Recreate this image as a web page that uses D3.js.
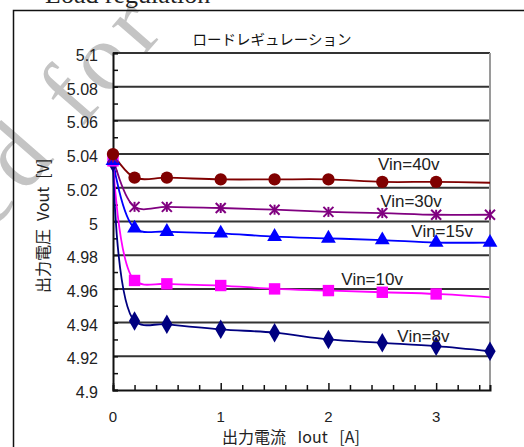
<!DOCTYPE html>
<html><head><meta charset="utf-8">
<script src="https://cdn.jsdelivr.net/npm/d3@7"></script>
<style>
html,body{margin:0;padding:0;background:#fff;}
svg{display:block;}
</style></head>
<body>
<svg id="chart" width="524" height="447"></svg>
<script>
// ---- data ----
const iout = [0, 0.2, 0.5, 1.0, 1.5, 2.0, 2.5, 3.0, 3.5];
const vin40 = [5.040, 5.026, 5.026, 5.025, 5.025, 5.025, 5.0235, 5.0235, 5.023];
const vin30 = [5.038, 5.0087, 5.0087, 5.008, 5.007, 5.0057, 5.005, 5.004, 5.004];
const vin15 = [5.036, 4.996, 4.994, 4.993, 4.991, 4.990, 4.989, 4.9875, 4.9875];
const vin10 = [5.036, 4.965, 4.963, 4.962, 4.960, 4.959, 4.958, 4.957, 4.955];
const vin8  = [5.035, 4.941, 4.939, 4.936, 4.934, 4.930, 4.928, 4.926, 4.923];
const seriesNames = ["Vin=40v", "Vin=30v", "Vin=15v", "Vin=10v", "Vin=8v"];
const yTicks = [4.9, 4.92, 4.94, 4.96, 4.98, 5.0, 5.02, 5.04, 5.06, 5.08, 5.1];
const yTickLabels = ["4.9", "4.92", "4.94", "4.96", "4.98", "5", "5.02", "5.04", "5.06", "5.08", "5.1"];
const xTicks = [0, 1, 2, 3];
const xTickLabels = ["0", "1", "2", "3"];
const chartTitle = "ロードレギュレーション";
const pageTitle = "Load regulation";
const xTitle = "出力電流\u2002 Iout\u2002 [A]";
const yTitle = "出力電圧\u2002Vout\u2002[V]";
const watermark = "ed for";

// ---- styles ----
const seriesValues = [vin40, vin30, vin15, vin10, vin8];
const colors = ["#800000", "#800080", "#0000ff", "#ff00ff", "#000080"];
const markers = ["circle", "star", "triangle", "square", "diamond"];
const lastMarker = [false, true, true, false, true];
// label anchor in data space (left x, baseline y)
const labelPos = [[2.46, 5.0305], [2.48, 5.0088], [2.77, 4.9908], [2.12, 4.9625], [2.64, 4.9285]];

const svg = d3.select("#chart");
const x = d3.scaleLinear().domain([0, 3.5]).range([113, 490]);
const y = d3.scaleLinear().domain([4.9, 5.1]).range([390, 53]);

// watermark (under everything)
svg.append("text")
  .attr("transform", "translate(-9,232) rotate(-49)")
  .attr("font-family", "Liberation Serif, serif")
  .attr("font-size", 95)
  .attr("letter-spacing", 8)
  .attr("fill", "#c4c4c4")
  .text(watermark);

// page title (cut at top)
svg.append("text")
  .attr("x", 45).attr("y", 3)
  .attr("font-family", "Liberation Serif, serif")
  .attr("font-size", 26)
  .attr("fill", "#222")
  .text(pageTitle);

// outer frame
svg.append("rect")
  .attr("x", 13.5).attr("y", 10.5)
  .attr("width", 600).attr("height", 600)
  .attr("fill", "none").attr("stroke", "#111").attr("stroke-width", 1.5);

// chart title
svg.append("text")
  .attr("x", 272).attr("y", 45)
  .attr("text-anchor", "middle")
  .attr("font-family", "Noto Sans CJK JP, sans-serif")
  .attr("font-size", 14.5)
  .attr("fill", "#111")
  .text(chartTitle);

// plot background
svg.append("rect")
  .attr("x", x(0)).attr("y", y(5.1))
  .attr("width", x(3.5) - x(0)).attr("height", y(4.9) - y(5.1))
  .attr("fill", "#fff");

// gridlines
svg.append("g").selectAll("line").data(yTicks.filter(d => d > 4.9)).join("line")
  .attr("x1", x(0)).attr("x2", x(3.5))
  .attr("y1", d => y(d)).attr("y2", d => y(d))
  .attr("stroke", "#333").attr("stroke-width", 2);

// right border
svg.append("line")
  .attr("x1", x(3.5)).attr("x2", x(3.5)).attr("y1", y(5.1)).attr("y2", y(4.9))
  .attr("stroke", "#9a9a9a").attr("stroke-width", 2);

// y axis
const yAxis = d3.axisRight(y)
  .tickValues(d3.range(0, 21).map(i => 4.9 + i * 0.01))
  .tickSize(5).tickFormat("");
const gy = svg.append("g").attr("transform", `translate(${x(0)},0)`).call(yAxis);
gy.select(".domain").attr("stroke", "#111").attr("stroke-width", 2);
gy.selectAll(".tick line").attr("stroke", "#111").attr("stroke-width", 1.5);

svg.append("g").selectAll("text").data(yTicks).join("text")
  .attr("x", 98).attr("y", d => y(d) + 8)
  .attr("text-anchor", "end")
  .attr("font-family", "Liberation Sans, Arial, sans-serif")
  .attr("font-size", 16)
  .attr("fill", "#222")
  .text((d, i) => yTickLabels[i]);

// x axis
const xMinor = d3.range(0, 18).map(i => +(i * 0.2).toFixed(1)).filter(v => v <= 3.5);
const xAxis = d3.axisTop(x).tickValues(xMinor).tickSize(5).tickFormat("");
const gx = svg.append("g").attr("transform", `translate(0,${y(4.9)})`).call(xAxis);
gx.select(".domain").attr("stroke", "#111").attr("stroke-width", 2);
gx.selectAll(".tick line").attr("stroke", "#111").attr("stroke-width", 1.5);
gx.selectAll(".tick line").filter(d => Number.isInteger(d)).attr("y2", -7);

svg.append("g").selectAll("text").data(xTicks).join("text")
  .attr("x", d => x(d)).attr("y", 422)
  .attr("text-anchor", "middle")
  .attr("font-family", "Liberation Sans, Arial, sans-serif")
  .attr("font-size", 15)
  .attr("fill", "#222")
  .text((d, i) => xTickLabels[i]);

// axis titles
svg.append("text")
  .attr("x", 222).attr("y", 443)
  .attr("font-family", "Noto Sans CJK JP, sans-serif")
  .attr("font-size", 16)
  .attr("fill", "#222")
  .text(xTitle);

svg.append("text")
  .attr("transform", "translate(49,293) rotate(-90)")
  .attr("font-family", "Noto Sans CJK JP, sans-serif")
  .attr("font-size", 16)
  .attr("fill", "#222")
  .text(yTitle);

// series lines
const line = d3.line()
  .x((d, i) => x(iout[i]))
  .y(d => y(d))
  .curve(d3.curveCatmullRom.alpha(0.5));

const gSeries = svg.append("g");
seriesValues.forEach((vals, s) => {
  gSeries.append("path")
    .datum(vals)
    .attr("d", line)
    .attr("fill", "none")
    .attr("stroke", colors[s])
    .attr("stroke-width", 1.8);
});

// markers
const symbolFor = {
  circle: d3.symbolCircle, triangle: d3.symbolTriangle,
  square: d3.symbolSquare, diamond: d3.symbolDiamond
};
const symSize = { circle: 120, triangle: 95, square: 130, diamond: 110 };
[4, 3, 2, 1, 0].forEach(s => {
  const vals = seriesValues[s];
  const pts = vals.map((v, i) => ({ x: iout[i], v, i }))
    .filter(p => lastMarker[s] || p.i < vals.length - 1);
  const g = gSeries.append("g");
  if (markers[s] === "star") {
    pts.forEach(p => {
      const cx = x(p.x), cy = y(p.v), r = 5;
      const st = g.append("g").attr("stroke", colors[s]).attr("stroke-width", 2);
      st.append("line").attr("x1", cx - r).attr("x2", cx + r).attr("y1", cy - r).attr("y2", cy + r);
      st.append("line").attr("x1", cx - r).attr("x2", cx + r).attr("y1", cy + r).attr("y2", cy - r);
      st.append("line").attr("x1", cx).attr("x2", cx).attr("y1", cy - r).attr("y2", cy + r);
    });
  } else {
    g.selectAll("path").data(pts).join("path")
      .attr("transform", p => `translate(${x(p.x)},${y(p.v)})`)
      .attr("d", d3.symbol().type(symbolFor[markers[s]]).size(symSize[markers[s]]))
      .attr("fill", colors[s]);
  }
});

// series labels
svg.append("g").selectAll("text").data(seriesNames).join("text")
  .attr("x", (d, i) => x(labelPos[i][0]))
  .attr("y", (d, i) => y(labelPos[i][1]))
  .attr("font-family", "Liberation Sans, Arial, sans-serif")
  .attr("font-size", 17)
  .attr("fill", "#222")
  .text(d => d);
</script>
</body></html>
